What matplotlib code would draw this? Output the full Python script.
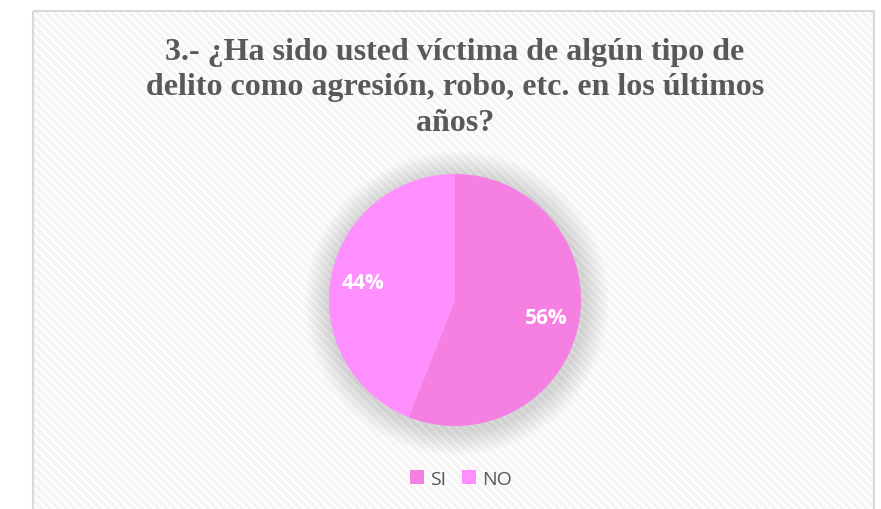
import matplotlib.pyplot as plt
from matplotlib.patches import Rectangle, Circle

plt.rcParams['figure.dpi'] = 100
plt.rcParams['hatch.linewidth'] = 2.5

# data
labels = ['SI', 'NO']
values = [56, 44]
colors = ['#F580E1', '#FF8FFF']
title = '3.- ¿Ha sido usted víctima de algún tipo de\ndelito como agresión, robo, etc. en los últimos\naños?'

W, H = 881, 510
fig = plt.figure(figsize=(W / 100, H / 100))

# background frame with diagonal stripes, in pixel coordinates
bg = fig.add_axes([0, 0, 1, 1])
bg.set_xlim(0, W)
bg.set_ylim(H, 0)
bg.axis('off')
bg.add_patch(Rectangle((33, 12), 841, 520, facecolor='white', edgecolor='#F4F4F4',
                       hatch='\\\\\\\\', linewidth=0))
bg.add_patch(Rectangle((33, 12), 841, 520, facecolor='none', edgecolor='#D9D9D9',
                       linewidth=1.5))

# soft shadow behind the pie
cx, cy, r = 455, 301, 126
for k in range(12):
    bg.add_patch(Circle((cx + 2, cy + 3), r + 26 - 2 * k, facecolor='black',
                        edgecolor='none', alpha=0.012))

fig.text(455 / W, 1 - 88 / H, title, ha='center', va='center', fontsize=23,
         fontweight='bold', family='Liberation Serif', color='#595959', linespacing=1.28)

ax = fig.add_axes([(cx - r) / W, (H - cy - r) / H, 2 * r / W, 2 * r / H])
wedges, texts, autotexts = ax.pie(values, colors=colors, startangle=90, counterclock=False,
                                  autopct='%1.0f%%', pctdistance=0.74, radius=1,
                                  textprops=dict(color='white', fontsize=15,
                                                 fontweight='bold', family='Open Sans'))
ax.set_xlim(-1, 1)
ax.set_ylim(-1, 1)

fig.legend(wedges, labels, loc='center', bbox_to_anchor=(461 / W, 1 - 480 / H), ncol=2,
           frameon=False, handlelength=0.75, handleheight=0.75, handletextpad=0.3,
           columnspacing=0.8, prop=dict(family='Open Sans', size=14), labelcolor='#595959')

fig.savefig('out.png', dpi=100)
